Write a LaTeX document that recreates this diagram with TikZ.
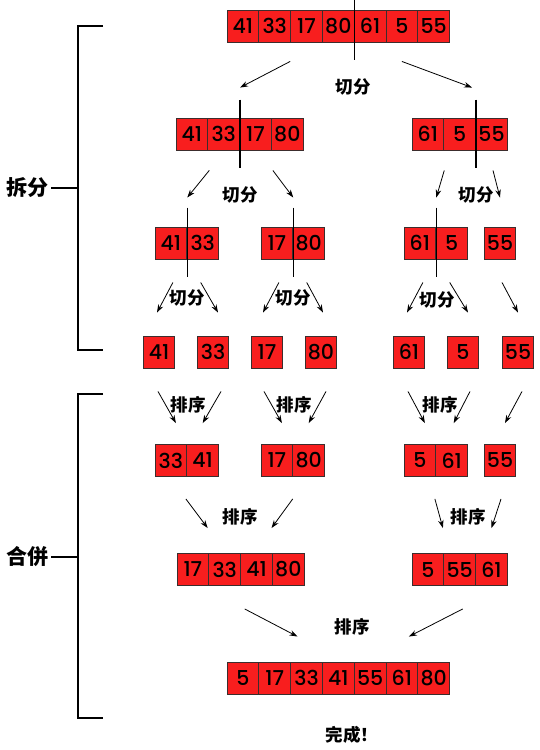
\documentclass[tikz,border=0pt]{standalone}
\usepackage{fontspec}
\setmainfont{Poppins}[UprightFont={* Medium}]
\newfontfamily\cjk{Noto Sans CJK SC}
\usetikzlibrary{arrows.meta}

\definecolor{cellred}{RGB}{248,30,30}
\definecolor{cellline}{RGB}{60,45,45}

\tikzset{
  cell/.style={draw=cellline, fill=cellred, line width=0.9pt,
    minimum width=31.8pt, minimum height=32pt, inner sep=0pt,
    font=\fontsize{20.5}{20.5}\selectfont},
  lbl/.style={font=\cjk\bfseries\fontsize{17.5}{17.5}\selectfont, inner sep=0pt},
  side/.style={font=\cjk\bfseries\fontsize{21}{21}\selectfont, inner sep=0pt},
  arr/.style={-{Stealth[length=8pt,width=5.5pt]}, line width=0.8pt},
  cut/.style={line width=1.3pt},
  brace/.style={line width=1.8pt}
}

\begin{document}
\begin{tikzpicture}[x=1pt, y=-1pt]
    \useasboundingbox (0,0) rectangle (540,750);

    % Zeile 0: Ausgangsfeld
    \foreach \v [count=\i] in {41,33,17,80,61,5,55}
        \node[cell] (r0c\i) at ({227+31.8*(\i-0.5)},26) {\v};
    % Zeile 1
    \foreach \v [count=\i] in {41,33,17,80}
        \node[cell] (r1ac\i) at ({176+31.8*(\i-0.5)},134) {\v};
    \foreach \v [count=\i] in {61,5,55}
        \node[cell] (r1bc\i) at ({412+31.8*(\i-0.5)},134) {\v};
    % Zeile 2
    \foreach \v [count=\i] in {41,33}
        \node[cell] (r2ac\i) at ({155+31.8*(\i-0.5)},243) {\v};
    \foreach \v [count=\i] in {17,80}
        \node[cell] (r2bc\i) at ({261+31.8*(\i-0.5)},243) {\v};
    \foreach \v [count=\i] in {61,5}
        \node[cell] (r2cc\i) at ({404+31.8*(\i-0.5)},243) {\v};
    \node[cell] (r2dc1) at (500,243) {55};
    % Zeile 3: Einzelelemente
    \node[cell] (r3a) at (159,352) {41};
    \node[cell] (r3b) at (213,352) {33};
    \node[cell] (r3c) at (267,352) {17};
    \node[cell] (r3d) at (321,352) {80};
    \node[cell] (r3e) at (409,352) {61};
    \node[cell] (r3f) at (463,352) {5};
    \node[cell] (r3g) at (518,352) {55};
    % Zeile 4
    \foreach \v [count=\i] in {33,41}
        \node[cell] (r4ac\i) at ({155+31.8*(\i-0.5)},460.5) {\v};
    \foreach \v [count=\i] in {17,80}
        \node[cell] (r4bc\i) at ({261+31.8*(\i-0.5)},460.5) {\v};
    \foreach \v [count=\i] in {5,61}
        \node[cell] (r4cc\i) at ({404+31.8*(\i-0.5)},460.5) {\v};
    \node[cell] (r4dc1) at (500,460.5) {55};
    % Zeile 5
    \foreach \v [count=\i] in {17,33,41,80}
        \node[cell] (r5ac\i) at ({177+31.8*(\i-0.5)},569.5) {\v};
    \foreach \v [count=\i] in {5,55,61}
        \node[cell] (r5bc\i) at ({412+31.8*(\i-0.5)},569.5) {\v};
    % Zeile 6: Ergebnis
    \foreach \v [count=\i] in {5,17,33,41,55,61,80}
        \node[cell] (r6c\i) at ({227+31.8*(\i-0.5)},678) {\v};

    % Trennstriche
    \draw[cut] ([shift={(0,-10)}]r0c4.north east) -- ([shift={(0,18)}]r0c4.south east);
    \draw[cut] ([shift={(0,-18)}]r1ac2.north east) -- ([shift={(0,18)}]r1ac2.south east);
    \draw[cut] ([shift={(0,-18)}]r1bc2.north east) -- ([shift={(0,18)}]r1bc2.south east);
    \draw[cut] ([shift={(0,-19)}]r2ac1.north east) -- ([shift={(0,18)}]r2ac1.south east);
    \draw[cut] ([shift={(0,-19)}]r2bc1.north east) -- ([shift={(0,18)}]r2bc1.south east);
    \draw[cut] ([shift={(0,-19)}]r2cc1.north east) -- ([shift={(0,18)}]r2cc1.south east);

    % Pfeile: teilen
    \draw[arr] ([shift={(0,19)}]r0c3.south west) -- ([shift={(0,-30)}]r1ac2.north east);
    \draw[arr] ([shift={(0,19)}]r0c6.south) -- ([shift={(-4,-30)}]r1bc2.north east);
    \draw[arr] ([shift={(1,20)}]r1ac1.south east) -- ([shift={(0,-29)}]r2ac1.north east);
    \draw[arr] ([shift={(1,20)}]r1ac3.south east) -- ([shift={(0,-29)}]r2bc1.north east);
    \draw[arr] ([shift={(0,20)}]r1bc1.south east) -- ([shift={(0,-29)}]r2cc1.north east);
    \draw[arr] ([shift={(1.5,20)}]r1bc3.south) -- ([shift={(0,-29)}]r2dc1.north);
    \draw[arr] ([shift={(2,23)}]r2ac1.south) -- ([shift={(-2,-23)}]r3a.north);
    \draw[arr] ([shift={(-2,23)}]r2ac2.south) -- ([shift={(5,-23)}]r3b.north);
    \draw[arr] ([shift={(2,23)}]r2bc1.south) -- ([shift={(-4,-23)}]r3c.north);
    \draw[arr] ([shift={(-2,23)}]r2bc2.south) -- ([shift={(2,-23)}]r3d.north);
    \draw[arr] ([shift={(3,23)}]r2cc1.south) -- ([shift={(-2,-23)}]r3e.north);
    \draw[arr] ([shift={(-2,23)}]r2cc2.south) -- ([shift={(5,-23)}]r3f.north);
    \draw[arr] ([shift={(2,23)}]r2dc1.south) -- ([shift={(0,-23)}]r3g.north);

    % Pfeile: sortieren
    \draw[arr] ([shift={(-1,23)}]r3a.south) -- ([shift={(5,-21)}]r4ac1.north);
    \draw[arr] ([shift={(8,23)}]r3b.south) -- ([shift={(0,-21)}]r4ac2.north);
    \draw[arr] ([shift={(-3,23)}]r3c.south) -- ([shift={(5,-21)}]r4bc1.north);
    \draw[arr] ([shift={(5,23)}]r3d.south) -- ([shift={(0,-21)}]r4bc2.north);
    \draw[arr] ([shift={(-1,23)}]r3e.south) -- ([shift={(5,-21)}]r4cc1.north);
    \draw[arr] ([shift={(7,23)}]r3f.south) -- ([shift={(2,-21)}]r4cc2.north);
    \draw[arr] ([shift={(4,23)}]r3g.south) -- ([shift={(5,-21)}]r4dc1.north);
    \draw[arr] ([shift={(15,22)}]r4ac1.south) -- ([shift={(-17,-25)}]r5ac2.north);
    \draw[arr] ([shift={(-16,22)}]r4bc2.south) -- ([shift={(15,-25)}]r5ac3.north);
    \draw[arr] ([shift={(15,22)}]r4cc1.south) -- ([shift={(15,-25)}]r5bc1.north);
    \draw[arr] ([shift={(1,22)}]r4dc1.south) -- ([shift={(0,-25)}]r5bc3.north);
    \draw[arr] ([shift={(20,23)}]r5ac2.south) -- ([shift={(-9,-25)}]r6c3.north);
    \draw[arr] ([shift={(3,23)}]r5bc2.south) -- ([shift={(7,-25)}]r6c6.north);

    % Beschriftungen
    \node[lbl] (cut0) at (353,87) {切分};
    \node[lbl] (cut1) at (240,195) {切分};
    \node[lbl] (cut2) at (476,195) {切分};
    \node[lbl] (cut3) at (187,298) {切分};
    \node[lbl] (cut4) at (293,298) {切分};
    \node[lbl] (cut5) at (437,300) {切分};
    \node[lbl] (sort0) at (188,405) {排序};
    \node[lbl] (sort1) at (294,405) {排序};
    \node[lbl] (sort2) at (440,405) {排序};
    \node[lbl] (sort3) at (240,517) {排序};
    \node[lbl] (sort4) at (468,517) {排序};
    \node[lbl] (sort5) at (352,627) {排序};
    \node[lbl] (done) at (352,735) {完成！};

    % Klammern links
    \node[side] (split) at (27,188) {拆分};
    \node[side] (merge) at (27,557) {合併};
    \coordinate (splitm) at (78,188);
    \coordinate (mergem) at (78,557);
    \draw[brace] (103,26) -- (78,26) -- (78,350) -- (103,350);
    \draw[brace] (103,394) -- (78,394) -- (78,718) -- (103,718);
    \draw[brace] ([xshift=3]split.east) -- (splitm);
    \draw[brace] ([xshift=3]merge.east) -- (mergem);
\end{tikzpicture}
\end{document}
